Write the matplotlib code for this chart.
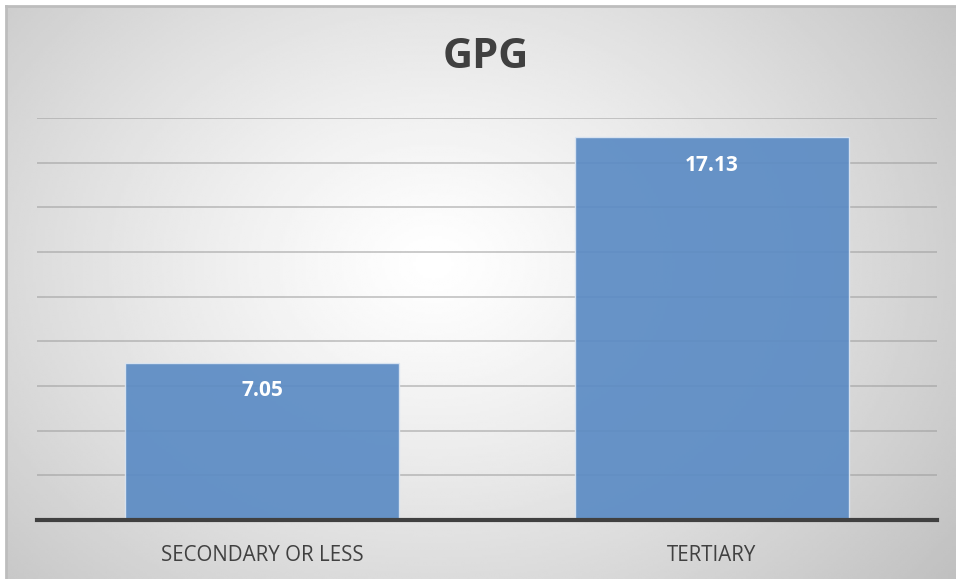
import numpy as np
import matplotlib
import matplotlib.pyplot as plt

matplotlib.use("Agg")

categories = ["SECONDARY OR LESS", "TERTIARY"]
values = [7.05, 17.13]
title = "GPG"

W, H = 956, 579
fig = plt.figure(figsize=(W / 100, H / 100), dpi=100)
fig.patch.set_facecolor("white")

# background with soft radial gradient, framed top and left
bg = fig.add_axes([6 / W, 0, 1 - 6 / W, 1 - 6 / H])
xx, yy = np.meshgrid(np.linspace(0, 1, 400), np.linspace(0, 1, 250))
d = np.sqrt(((xx - 0.45) / 0.7) ** 2 + ((yy - 0.45) / 0.9) ** 2)
shade = 1.0 - 0.25 * np.clip(d, 0, 1) ** 1.2
bg.imshow(shade, cmap="gray", vmin=0, vmax=1, aspect="auto",
          extent=[0, 1, 1, 0], interpolation="bilinear")
bg.set_xticks([])
bg.set_yticks([])
for s in ["right", "bottom"]:
    bg.spines[s].set_visible(False)
for s in ["top", "left"]:
    bg.spines[s].set_color("#bdbdbd")
    bg.spines[s].set_linewidth(2)

ax = fig.add_axes([37 / W, (H - 520) / H, 900 / W, 402 / H])
ax.patch.set_alpha(0)
x = np.arange(len(categories))
ax.bar(x, values, width=0.607, color="#5b8bc4", alpha=0.92,
       edgecolor="#dce6f2", linewidth=1.0, zorder=3)
for xi, v in zip(x, values):
    ax.text(xi, v - 1.27, f"{v:.2f}", ha="center", va="center",
            color="white", fontsize=15, fontweight="bold",
            family="Open Sans", zorder=4)

ax.set_xlim(-0.5, 1.5)
ax.set_ylim(0, 18)
ax.set_yticks(np.arange(0, 19, 2))
ax.yaxis.grid(True, color="#9a9a9a", linewidth=1.3, alpha=0.55, zorder=1)
ax.tick_params(axis="y", left=False, labelleft=False)
ax.set_xticks(x)
ax.set_xticklabels(categories, fontsize=14.8, color="#404040", family="Open Sans")
ax.tick_params(axis="x", length=0, pad=18)
for s in ["top", "right", "left"]:
    ax.spines[s].set_visible(False)
ax.spines["bottom"].set_color("#404040")
ax.spines["bottom"].set_linewidth(3)
ax.spines["bottom"].set_zorder(5)

fig.text(486 / W, 1 - 57 / H, title, ha="center", va="center",
         fontsize=30, fontweight="bold", color="#404040", family="Open Sans")

fig.savefig("out.png", dpi=100)
